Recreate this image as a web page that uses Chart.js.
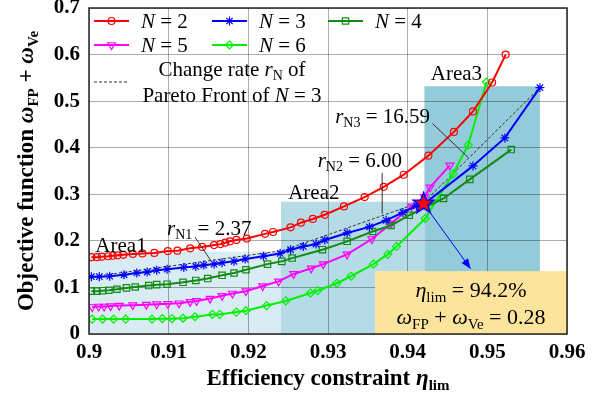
<!DOCTYPE html>
<html lang="en">
<head>
<meta charset="UTF-8" />
<title>Pareto fronts</title>
<script src="https://cdn.jsdelivr.net/npm/chart.js"></script>
<style>
  html, body { margin: 0; padding: 0; background: #fff; }
</style>
</head>
<body>
<canvas id="chart" width="610" height="398"></canvas>
<script>
  // values
  const n2X = [0.9003, 0.9010, 0.9016, 0.9024, 0.9030, 0.9036, 0.9043, 0.9055, 0.9067, 0.9082, 0.9099, 0.9111, 0.9127, 0.9142, 0.9157, 0.9165, 0.9171, 0.9177, 0.9185, 0.9198, 0.9221, 0.9231, 0.9253, 0.9266, 0.9281, 0.9296, 0.9320, 0.9346, 0.9370, 0.9395, 0.9426, 0.9458, 0.9482, 0.9506, 0.9523];
  const n2Y = [0.165, 0.165, 0.166, 0.167, 0.168, 0.169, 0.170, 0.172, 0.173, 0.174, 0.178, 0.179, 0.184, 0.187, 0.191, 0.193, 0.196, 0.199, 0.202, 0.205, 0.215, 0.219, 0.229, 0.239, 0.247, 0.256, 0.274, 0.294, 0.316, 0.342, 0.383, 0.434, 0.478, 0.540, 0.600];

  const n3X = [0.9003, 0.9013, 0.9026, 0.9044, 0.9060, 0.9073, 0.9085, 0.9098, 0.9119, 0.9134, 0.9144, 0.9157, 0.9167, 0.9182, 0.9196, 0.9219, 0.9240, 0.9253, 0.9269, 0.9285, 0.9296, 0.9324, 0.9352, 0.9373, 0.9394, 0.9411, 0.9422, 0.9482, 0.9522, 0.9566];
  const n3Y = [0.123, 0.123, 0.124, 0.127, 0.131, 0.133, 0.137, 0.139, 0.143, 0.145, 0.148, 0.150, 0.153, 0.156, 0.161, 0.167, 0.173, 0.181, 0.188, 0.193, 0.202, 0.217, 0.230, 0.244, 0.261, 0.275, 0.281, 0.361, 0.421, 0.529];

  const n4X = [0.9003, 0.9010, 0.9017, 0.9025, 0.9035, 0.9047, 0.9058, 0.9075, 0.9085, 0.9098, 0.9118, 0.9134, 0.9149, 0.9167, 0.9182, 0.9197, 0.9224, 0.9242, 0.9255, 0.9293, 0.9324, 0.9356, 0.9379, 0.9402, 0.9445, 0.9478, 0.9530];
  const n4Y = [0.092, 0.092, 0.093, 0.094, 0.096, 0.099, 0.101, 0.104, 0.106, 0.107, 0.111, 0.115, 0.119, 0.126, 0.131, 0.138, 0.150, 0.156, 0.163, 0.181, 0.199, 0.220, 0.233, 0.255, 0.291, 0.332, 0.396];

  const n5X = [0.9004, 0.9012, 0.9019, 0.9027, 0.9038, 0.9055, 0.9072, 0.9085, 0.9099, 0.9113, 0.9127, 0.9135, 0.9152, 0.9167, 0.9180, 0.9197, 0.9218, 0.9238, 0.9257, 0.9279, 0.9294, 0.9324, 0.9355, 0.9379, 0.9405, 0.9421, 0.9428, 0.9453];
  const n5Y = [0.058, 0.059, 0.059, 0.060, 0.061, 0.062, 0.063, 0.064, 0.065, 0.066, 0.069, 0.071, 0.076, 0.082, 0.087, 0.092, 0.103, 0.113, 0.129, 0.141, 0.150, 0.171, 0.204, 0.237, 0.274, 0.294, 0.315, 0.362];

  const n6X = [0.9004, 0.9017, 0.9031, 0.9046, 0.9079, 0.9092, 0.9104, 0.9118, 0.9133, 0.9155, 0.9164, 0.9185, 0.9197, 0.9223, 0.9247, 0.9278, 0.9287, 0.9311, 0.9329, 0.9357, 0.9375, 0.9386, 0.9422, 0.9457, 0.9476, 0.9499];
  const n6Y = [0.032, 0.032, 0.032, 0.032, 0.032, 0.033, 0.033, 0.034, 0.037, 0.042, 0.042, 0.047, 0.050, 0.061, 0.071, 0.088, 0.093, 0.109, 0.124, 0.150, 0.171, 0.188, 0.248, 0.344, 0.406, 0.541];

  // change rate of the N = 3 front
  const rateX = [0.9, 0.9243, 0.9423, 0.9566];
  const rateY = [0.122, 0.179, 0.287, 0.529];
  const rateLabels = ['2.37', '6.00', '16.59'];

  const areaNames = ['Area1', 'Area2', 'Area3'];
  const areaFrom = [0.9, 0.9241, 0.9421];
  const areaTo = [0.9241, 0.9421, 0.9566];
  const areaTop = [0.177, 0.284, 0.532];

  const optEta = 0.942;
  const optObj = 0.28;

  const xTicks = [0.9, 0.91, 0.92, 0.93, 0.94, 0.95, 0.96];
  const yTicks = [0, 0.1, 0.2, 0.3, 0.4, 0.5, 0.6, 0.7];

  const serif = '"Liberation Serif", "Times New Roman", serif';
  const f = (size, style) => (style || '') + ' ' + size + 'px ' + serif;

  const series = [
    { n: '2', xs: n2X, ys: n2Y, color: '#ff0000', style: 'circle', rot: 0, r: 3.5 },
    { n: '3', xs: n3X, ys: n3Y, color: '#0000ff', style: 'star', rot: 0, r: 4.5 },
    { n: '4', xs: n4X, ys: n4Y, color: '#138a13', style: 'rect', rot: 0, r: 4.5 },
    { n: '5', xs: n5X, ys: n5Y, color: '#ff00ff', style: 'triangle', rot: 180, r: 4.5 },
    { n: '6', xs: n6X, ys: n6Y, color: '#00f000', style: 'rectRot', rot: 0, r: 4 },
  ];

  const datasets = series.map(s => ({
    label: 'N = ' + s.n,
    data: s.xs.map((x, i) => ({ x, y: s.ys[i] })),
    borderColor: s.color,
    borderWidth: 2,
    pointStyle: s.style,
    pointRotation: s.rot,
    pointRadius: s.r,
    pointBorderColor: s.color,
    pointBackgroundColor: 'rgba(0,0,0,0)',
    pointBorderWidth: 1.2,
    tension: 0,
  }));
  datasets.push({
    label: 'rate',
    data: rateX.map((x, i) => ({ x, y: rateY[i] })),
    borderColor: '#333',
    borderWidth: 1,
    borderDash: [3, 2],
    pointRadius: 0,
    tension: 0,
  });

  // draw text made of pieces (italic, subscripts)
  function rich(ctx, parts, x, y, align) {
    let w = 0;
    parts.forEach(p => { ctx.font = p[1]; w += ctx.measureText(p[0]).width; });
    let cx = align === 'center' ? x - w / 2 : x;
    ctx.textAlign = 'left';
    ctx.textBaseline = 'alphabetic';
    parts.forEach(p => {
      ctx.font = p[1];
      ctx.fillText(p[0], cx, y + (p[2] || 0));
      cx += ctx.measureText(p[0]).width;
    });
  }

  function star(ctx, x, y, R, r) {
    ctx.beginPath();
    for (let i = 0; i < 10; i++) {
      const a = -Math.PI / 2 + i * Math.PI / 5;
      const rad = i % 2 ? r : R;
      ctx.lineTo(x + rad * Math.cos(a), y + rad * Math.sin(a));
    }
    ctx.closePath();
  }

  const decor = {
    id: 'decor',
    beforeDraw(chart) {
      const { ctx, scales: { x, y } } = chart;
      const fills = ['#d9ecf4', '#b5dbe7', '#93cbda'];
      ctx.save();
      areaNames.forEach((n, i) => {
        const x0 = x.getPixelForValue(areaFrom[i]);
        const x1 = x.getPixelForValue(areaTo[i]);
        const y0 = y.getPixelForValue(areaTop[i]);
        ctx.fillStyle = fills[i];
        ctx.fillRect(x0, y0, x1 - x0, y.getPixelForValue(0) - y0);
      });
      ctx.restore();
    },
    afterDatasetsDraw(chart) {
      const { ctx, chartArea: a, scales: { x, y } } = chart;
      const X = v => x.getPixelForValue(v);
      const Y = v => y.getPixelForValue(v);
      ctx.save();
      ctx.fillStyle = '#000';

      // area labels
      const areaLabelX = [0.9008, 0.9250, 0.9429];
      const areaLabelY = [0.177, 0.290, 0.545];
      areaNames.forEach((n, i) => rich(ctx, [[n, f(21)]], X(areaLabelX[i]), Y(areaLabelY[i])));

      // change rate labels with leader lines
      const lx = [0.9098, 0.9287, 0.9309];
      const ly = [0.213, 0.359, 0.453];
      const leaders = [[0.9133, 0.208, 0.9154, 0.155], [0.9368, 0.346, 0.9368, 0.258], [0.9431, 0.452, 0.9476, 0.379]];
      ctx.strokeStyle = '#333';
      ctx.lineWidth = 1;
      leaders.forEach((l, i) => {
        ctx.beginPath();
        ctx.moveTo(X(l[0]), Y(l[1]));
        ctx.lineTo(X(l[2]), Y(l[3]));
        ctx.stroke();
        rich(ctx, [['r', f(21, 'italic')], ['N' + (i + 1), f(14), 4], [' = ' + rateLabels[i], f(21)]], X(lx[i]), Y(ly[i]));
      });

      // result box
      const bx = X(0.9359), by = Y(0.135);
      ctx.fillStyle = '#fde49c';
      ctx.fillRect(bx, by, a.right - bx, a.bottom - by);
      ctx.fillStyle = '#000';
      const cx = (bx + a.right) / 2;
      rich(ctx, [['\u03b7', f(22, 'italic')], ['lim', f(15), 5], [' = 94.2%', f(22)]], cx, by + 26, 'center');
      rich(ctx, [['\u03c9', f(22, 'italic')], ['FP', f(15), 5], [' + ', f(22)], ['\u03c9', f(22, 'italic')], ['Ve', f(15), 5], [' = 0.28', f(22)]], cx, by + 53, 'center');

      // arrow from the chosen point
      const sx = X(optEta), sy = Y(optObj);
      const tx = X(0.9479), ty = Y(0.140);
      ctx.strokeStyle = '#0000ff';
      ctx.fillStyle = '#0000ff';
      ctx.beginPath();
      ctx.moveTo(sx, sy);
      ctx.lineTo(tx, ty);
      ctx.stroke();
      const ang = Math.atan2(ty - sy, tx - sx);
      ctx.beginPath();
      ctx.moveTo(tx, ty);
      ctx.lineTo(tx - 10 * Math.cos(ang) + 4 * Math.sin(ang), ty - 10 * Math.sin(ang) - 4 * Math.cos(ang));
      ctx.lineTo(tx - 10 * Math.cos(ang) - 4 * Math.sin(ang), ty - 10 * Math.sin(ang) + 4 * Math.cos(ang));
      ctx.closePath();
      ctx.fill();

      star(ctx, sx, sy, 11, 4.6);
      ctx.fillStyle = '#ff0000';
      ctx.fill();
      ctx.lineWidth = 1.5;
      ctx.strokeStyle = '#0000ff';
      ctx.stroke();

      // legend
      const colX = [94, 212, 328];
      const rowY = [21, 45];
      series.forEach((s, i) => {
        const lxs = colX[i % 3], lys = rowY[Math.floor(i / 3)];
        ctx.strokeStyle = s.color;
        ctx.lineWidth = 2;
        ctx.beginPath();
        ctx.moveTo(lxs, lys);
        ctx.lineTo(lxs + 35, lys);
        ctx.stroke();
        ctx.fillStyle = 'rgba(0,0,0,0)';
        ctx.lineWidth = 1.2;
        Chart.helpers.drawPoint(ctx, { pointStyle: s.style, rotation: s.rot, radius: s.r, borderWidth: 1.2 }, lxs + 17.5, lys);
        ctx.fillStyle = '#000';
        rich(ctx, [['N', f(21, 'italic')], [' = ' + s.n, f(21)]], lxs + 47, lys + 7);
      });
      ctx.strokeStyle = '#333';
      ctx.lineWidth = 1;
      ctx.setLineDash([3, 2]);
      ctx.beginPath();
      ctx.moveTo(94, 82);
      ctx.lineTo(129, 82);
      ctx.stroke();
      ctx.setLineDash([]);
      rich(ctx, [['Change rate ', f(21)], ['r', f(21, 'italic')], ['N', f(14), 4], [' of', f(21)]], 232, 76, 'center');
      rich(ctx, [['Pareto Front of ', f(21)], ['N', f(21, 'italic')], [' = 3', f(21)]], 232, 102, 'center');

      // frame
      ctx.strokeStyle = '#262626';
      ctx.lineWidth = 1.5;
      ctx.strokeRect(a.left, a.top, a.right - a.left, a.bottom - a.top);
      ctx.restore();
    },
    afterDraw(chart) {
      const { ctx, chartArea: a } = chart;
      ctx.save();
      ctx.fillStyle = '#000';
      rich(ctx, [['Efficiency constraint ', f(23, 'bold')], ['\u03b7', f(23, 'italic bold')], ['lim', f(15, 'bold'), 5]], (a.left + a.right) / 2, 385, 'center');
      ctx.translate(33, (a.top + a.bottom) / 2);
      ctx.rotate(-Math.PI / 2);
      rich(ctx, [['Objective function ', f(23, 'bold')], ['\u03c9', f(23, 'italic bold')], ['FP', f(15, 'bold'), 5], [' + ', f(23, 'bold')], ['\u03c9', f(23, 'italic bold')], ['Ve', f(15, 'bold'), 5]], 0, 0, 'center');
      ctx.restore();
    }
  };

  const fmt = v => String(+Number(v).toFixed(2));

  new Chart(document.getElementById('chart'), {
    type: 'line',
    data: { datasets },
    plugins: [decor],
    options: {
      responsive: false,
      animation: false,
      layout: { padding: { left: 0, top: 8, right: 43, bottom: 0 } },
      plugins: { legend: { display: false }, tooltip: { enabled: false } },
      scales: {
        x: {
          type: 'linear',
          min: 0.9,
          max: 0.96,
          afterBuildTicks: s => { s.ticks = xTicks.map(v => ({ value: v })); },
          afterFit: s => { s.height = 64; s.paddingLeft = 0; s.paddingRight = 0; },
          grid: { color: 'rgba(0,0,0,0.32)', drawTicks: false },
          border: { display: false },
          ticks: { padding: 6, color: '#000', font: { family: serif, size: 21, weight: 'bold' }, callback: fmt, maxRotation: 0 },
        },
        y: {
          type: 'linear',
          min: 0,
          max: 0.7,
          afterBuildTicks: s => { s.ticks = yTicks.map(v => ({ value: v })); },
          afterFit: s => { s.width = 89; s.paddingTop = 0; s.paddingBottom = 0; },
          grid: { color: 'rgba(0,0,0,0.32)', drawTicks: false },
          border: { display: false },
          ticks: { padding: 9, color: '#000', font: { family: serif, size: 21, weight: 'bold' }, callback: fmt },
        },
      },
    },
  });
</script>
</body>
</html>
